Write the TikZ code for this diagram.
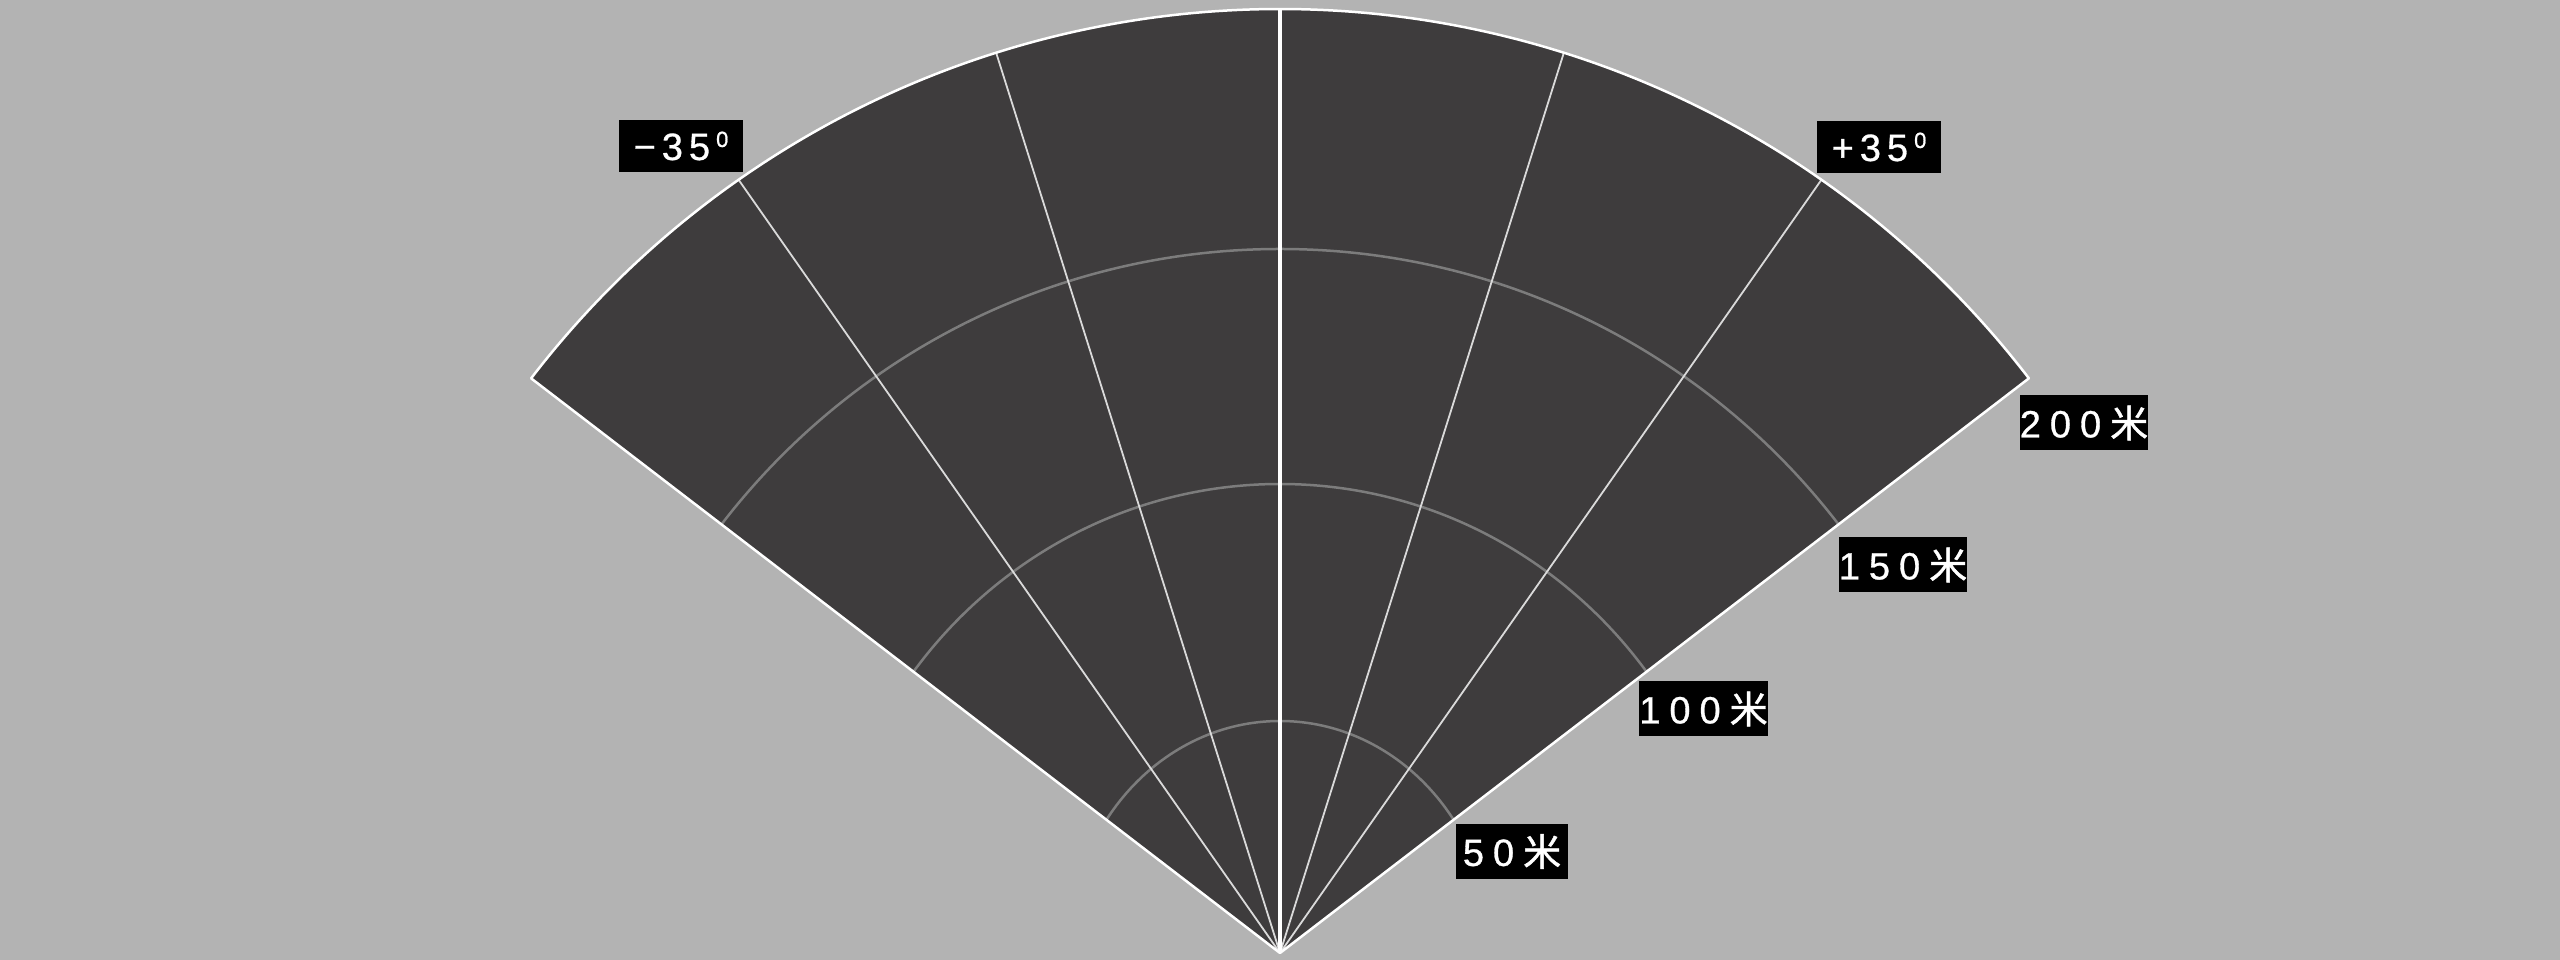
\documentclass[tikz,border=0pt]{standalone}
\usepackage{fontspec}
\setmainfont[FakeBold=0.8]{Liberation Sans}
\newfontfamily\cjk[FakeBold=1.2]{Noto Sans CJK SC}
\definecolor{bgc}{HTML}{B3B3B3}
\definecolor{fanc}{HTML}{3E3C3D}
\definecolor{arcc}{HTML}{7C7C7C}
\definecolor{radc}{HTML}{DADADA}
\newcommand\mygap{\kern9pt}
\newcommand\dgap{\kern6pt}
\newcommand\supz{\raisebox{13pt}{\fontsize{22}{22}\selectfont 0}}
\tikzset{
  lbl/.style={fill=black, text=white, inner sep=0pt, minimum height=55pt, font=\fontsize{38}{40}\selectfont},
  dlbl/.style={fill=black, text=white, inner sep=0pt, minimum width=124pt, minimum height=52pt, font=\fontsize{38}{40}\selectfont},
  arcline/.style={draw=arcc, line width=2.5pt},
  radial/.style={draw=radc, line width=1.8pt},
  midline/.style={draw=white, line width=3.5pt},
  border/.style={draw=white, line width=2.5pt, line join=round}
}
\begin{document}
\begin{tikzpicture}[x=1pt,y=1pt]
\fill[bgc] (0,0) rectangle (2560,960);
\useasboundingbox (0,0) rectangle (2560,960);
\coordinate (A) at (1280,7);
% fan
\fill[fanc] (A) -- ++(37.5:944) arc[start angle=37.5, end angle=142.5, radius=944] -- cycle;
% range arcs
\begin{scope}
\clip (A) -- ++(37.5:944) arc[start angle=37.5, end angle=142.5, radius=944] -- cycle;
\draw[arcline] (A) ellipse[x radius=212, y radius=232];
\draw[arcline] (A) ellipse[x radius=458, y radius=469];
\draw[arcline] (A) circle[radius=704];
\end{scope}
% radial lines
\draw[radial] (A) -- ++(55:944);
\draw[radial] (A) -- ++(72.5:944);
\draw[radial] (A) -- ++(107.5:944);
\draw[radial] (A) -- ++(125:944);
\draw[midline] (A) -- ++(90:944);
% border
\draw[border] (A) -- ++(37.5:944) arc[start angle=37.5, end angle=142.5, radius=944] -- cycle;
% labels
\node[dlbl] (lm) at (681,814) {−\dgap 3\dgap 5\dgap\supz};
\node[dlbl] (lp) at (1879,813) {+\dgap 3\dgap 5\dgap\supz};
\node[lbl, minimum width=125pt] (l200) at (2084,537) {2\mygap 0\mygap 0\mygap{\cjk 米}};
\node[lbl, minimum width=127pt] (l150) at (1903,395) {1\mygap 5\mygap 0\mygap{\cjk 米}};
\node[lbl, minimum width=125pt] (l100) at (1703.5,251) {1\mygap 0\mygap 0\mygap{\cjk 米}};
\node[lbl, minimum width=112pt] (l50) at (1512,108.5) {5\mygap 0\mygap{\cjk 米}};
\end{tikzpicture}
\end{document}
